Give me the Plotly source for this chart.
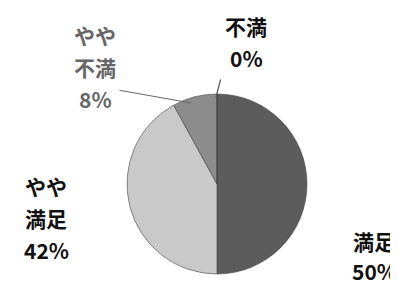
import plotly.graph_objects as go

# Data
categories = ["満足", "やや満足", "やや不満", "不満"]
values = [50, 42, 8, 0]
slice_colors = ["#5c5c5c", "#c9c9c9", "#8c8c8c", "#3a3a3a"]

# Label text lines per category (split as in the reference)
label_lines = {
    "満足": ["満足"],
    "やや満足": ["やや", "満足"],
    "やや不満": ["やや", "不満"],
    "不満": ["不満"],
}
label_colors = {"満足": "#111111", "やや満足": "#111111", "やや不満": "#666666", "不満": "#111111"}

W, H = 398, 285
cx, cy, r = 209, 176, 90  # pixel centre / radius of pie (from top-left)

fig = go.Figure()
fig.add_trace(go.Pie(
    labels=categories,
    values=values,
    sort=False,
    direction="clockwise",
    rotation=0,
    marker=dict(colors=slice_colors, line=dict(color="#444444", width=0.6)),
    textinfo="none",
    hoverinfo="label+percent",
    showlegend=False,
    domain=dict(x=[(cx - r) / W, (cx + r) / W], y=[(H - cy - r) / H, (H - cy + r) / H]),
))

# label anchor positions in pixels (centre x, first-line centre y), line pitch
label_pos = {
    "やや不満": (87, 27, 32),
    "不満": (238, 18, 32),
    "やや満足": (38, 178, 32),
    "満足": (366, 233, 30),
}

font_family = "Noto Sans CJK JP, Noto Sans, sans-serif"
for cat, val in zip(categories, values):
    x0, y0, pitch = label_pos[cat]
    lines = label_lines[cat] + [f"{val}%"]
    for i, t in enumerate(lines):
        fig.add_annotation(
            x=x0 / W, y=1 - (y0 + i * pitch) / H, xref="paper", yref="paper",
            text=f"<b>{t}</b>", showarrow=False,
            font=dict(family=font_family, size=21, color=label_colors[cat]),
            xanchor="center", yanchor="middle",
        )

# leader lines (annotation arrows without heads), offsets in pixels
fig.add_annotation(x=183 / W, y=1 - 95 / H, xref="paper", yref="paper",
                   ax=-73, ay=-13, text="", showarrow=True, arrowhead=0,
                   arrowwidth=1, arrowcolor="#666666", standoff=0, startstandoff=0)
fig.add_annotation(x=208 / W, y=1 - (cy - r + 3) / H, xref="paper", yref="paper",
                   ax=5, ay=-19, text="", showarrow=True, arrowhead=0,
                   arrowwidth=1.2, arrowcolor="#555555", standoff=0, startstandoff=0)

fig.update_layout(
    width=W, height=H,
    margin=dict(l=0, r=0, t=0, b=0),
    paper_bgcolor="white", plot_bgcolor="white",
)

fig.write_html("out.html")
